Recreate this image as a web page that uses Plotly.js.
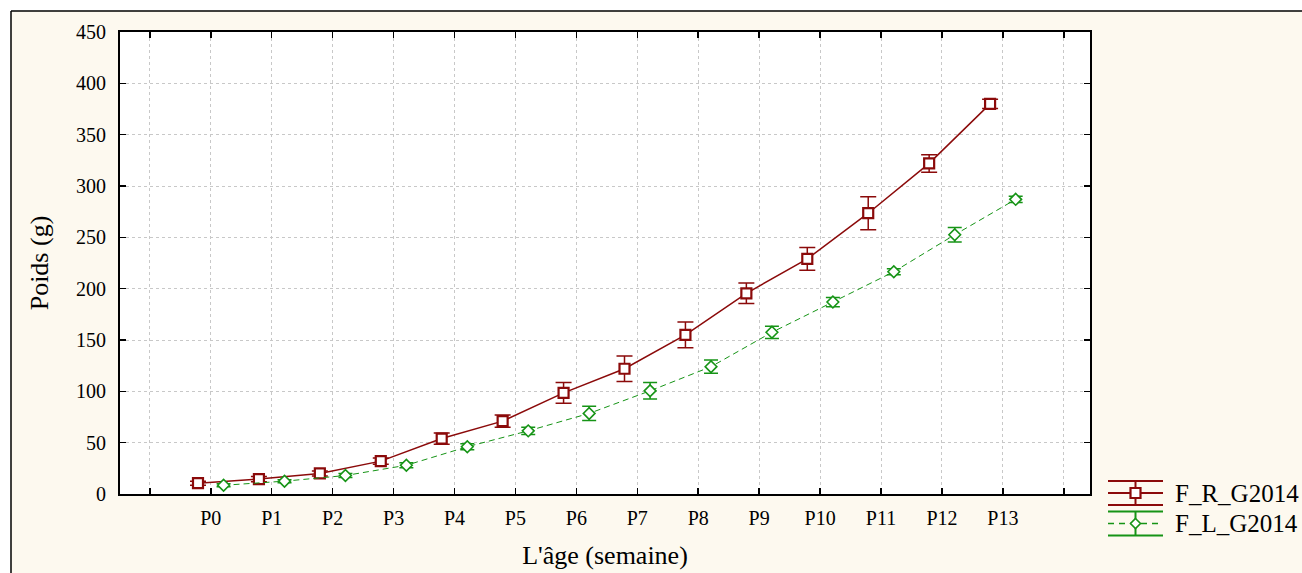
<!DOCTYPE html>
<html>
<head>
<meta charset="utf-8">
<script src="https://cdn.plot.ly/plotly-3.0.1.min.js"></script>
<style>
  html, body { margin: 0; padding: 0; background: #ffffff; }
  #chart { width: 1302px; height: 573px; }
</style>
</head>
<body>
<div id="chart"></div>
<script>
// Weekly body weight (g) of the two groups, mean ± error
const weeks = ['P0', 'P1', 'P2', 'P3', 'P4', 'P5', 'P6', 'P7', 'P8', 'P9', 'P10', 'P11', 'P12', 'P13'];
const frMean = [10.5, 14.5, 20, 32, 54, 71, 98.5, 122, 155, 195.5, 229, 273.5, 322, 380];
const frErr  = [2, 2.5, 2.5, 3, 5.5, 6, 10, 12.5, 12.5, 10, 11, 16, 8.5, 4.5];
const flMean = [8.5, 12.5, 18, 28, 46, 61.5, 78.5, 100.5, 124, 157.5, 187, 216.5, 252.5, 287];
const flErr  = [1.5, 1.5, 2, 2.5, 3, 3.5, 7, 8, 6.5, 6, 4.5, 3, 7, 3];
const seriesNames = ['F_R_G2014', 'F_L_G2014'];
const yTicks = [0, 50, 100, 150, 200, 250, 300, 350, 400, 450];

const RED = '#8b0a0a';
const GREEN = '#169416';
const FONT = 'Liberation Serif, Times New Roman, serif';

// plot-area box in pixels, used to place the frame and the legend key
const W = 1302, H = 573, L = 120, R = 1090, T = 32, B = 494;
const px = x => (x - L) / (R - L);
const py = y => (B - y) / (B - T);

// categories sit on integer slots; the two groups are drawn side by side
const slot = weeks.map((_, i) => i);
const tickVals = [-1].concat(slot, [weeks.length]);
const tickText = [''].concat(weeks, ['']);

const traces = [
  {
    x: slot.map(i => i - 0.21), y: frMean, name: seriesNames[0],
    mode: 'lines+markers', type: 'scatter',
    line: { color: RED, width: 1.5 },
    marker: { symbol: 'square', size: 10, color: '#ffffff', line: { color: RED, width: 2.2 } },
    error_y: { type: 'data', array: frErr, visible: true, color: RED, thickness: 1.5, width: 8 },
    showlegend: false, hoverinfo: 'skip'
  },
  {
    x: slot.map(i => i + 0.21), y: flMean, name: seriesNames[1],
    mode: 'lines+markers', type: 'scatter',
    line: { color: GREEN, width: 1, dash: '6px,4px' },
    marker: { symbol: 'diamond', size: 9, color: '#ffffff', line: { color: GREEN, width: 1.6 } },
    error_y: { type: 'data', array: flErr, visible: true, color: GREEN, thickness: 1.5, width: 7 },
    showlegend: false, hoverinfo: 'skip'
  }
];

// legend key drawn with shapes: three bars, a stem and the marker
function keyShapes(yc, color, dashMid, marker) {
  const x0 = px(1108), x1 = px(1163), xm = px(1135.5);
  const s = [
    { type: 'line', xref: 'paper', yref: 'paper', x0: x0, x1: x1, y0: py(yc - 12), y1: py(yc - 12), line: { color: color, width: 2 } },
    { type: 'line', xref: 'paper', yref: 'paper', x0: x0, x1: x1, y0: py(yc), y1: py(yc), line: { color: color, width: dashMid ? 1.5 : 2, dash: dashMid ? '6px,5px' : 'solid' } },
    { type: 'line', xref: 'paper', yref: 'paper', x0: x0, x1: x1, y0: py(yc + 12), y1: py(yc + 12), line: { color: color, width: 2 } },
    { type: 'line', xref: 'paper', yref: 'paper', x0: xm, x1: xm, y0: py(yc - 12), y1: py(yc + 12), line: { color: color, width: 2 } }
  ];
  if (marker === 'square') {
    s.push({ type: 'rect', xref: 'paper', yref: 'paper', x0: px(1130.5), x1: px(1140.5), y0: py(yc - 5), y1: py(yc + 5), fillcolor: '#ffffff', line: { color: color, width: 2.2 } });
  } else {
    const X = v => px(v), Y = v => py(v);
    s.push({ type: 'path', xref: 'paper', yref: 'paper',
      path: `M ${X(1135.5)} ${Y(yc - 5)} L ${X(1140.5)} ${Y(yc)} L ${X(1135.5)} ${Y(yc + 5)} L ${X(1130.5)} ${Y(yc)} Z`,
      fillcolor: '#ffffff', line: { color: color, width: 1.6 } });
  }
  return s;
}

const shapes = [
  // white margin outside the outer frame
  { type: 'rect', xref: 'paper', yref: 'paper', layer: 'below', x0: px(0), x1: px(W + 5), y0: py(11), y1: py(-5), fillcolor: '#ffffff', line: { width: 0 } },
  { type: 'rect', xref: 'paper', yref: 'paper', layer: 'below', x0: px(-5), x1: px(11), y0: py(H + 5), y1: py(-5), fillcolor: '#ffffff', line: { width: 0 } },
  // outer frame
  { type: 'line', xref: 'paper', yref: 'paper', x0: px(11), x1: px(11), y0: py(11), y1: py(H + 5), line: { color: '#000', width: 1.5 } },
  { type: 'line', xref: 'paper', yref: 'paper', x0: px(11), x1: px(W + 5), y0: py(11), y1: py(11), line: { color: '#000', width: 1.5 } }
].concat(keyShapes(493, RED, false, 'square'), keyShapes(523.5, GREEN, true, 'diamond'));

const annotations = [
  { xref: 'paper', yref: 'paper', x: px(1173), y: py(493), xanchor: 'left', yanchor: 'middle', text: seriesNames[0], showarrow: false, font: { family: FONT, size: 25, color: '#000' } },
  { xref: 'paper', yref: 'paper', x: px(1173), y: py(523.5), xanchor: 'left', yanchor: 'middle', text: seriesNames[1], showarrow: false, font: { family: FONT, size: 25, color: '#000' } }
];

const axisCommon = {
  showline: true, linecolor: '#000', linewidth: 2, mirror: 'ticks',
  ticks: 'inside', ticklen: 6, tickwidth: 1.5, tickcolor: '#000',
  showgrid: true, gridcolor: '#c8c8c8', gridwidth: 1, griddash: 'dot',
  zeroline: false, tickfont: { family: FONT, size: 20, color: '#000' }
};

const layout = {
  width: W, height: H,
  margin: { l: L, r: W - R, t: T, b: H - B, pad: 0 },
  paper_bgcolor: '#fdf9ef',
  plot_bgcolor: '#ffffff',
  showlegend: false,
  xaxis: Object.assign({}, axisCommon, {
    range: [-1.49, 14.43], tickmode: 'array', tickvals: tickVals, ticktext: tickText,
    ticklabelstandoff: 5,
    title: { text: "L'âge (semaine)", font: { family: FONT, size: 26, color: '#000' }, standoff: 18 }
  }),
  yaxis: Object.assign({}, axisCommon, {
    range: [0, 450], tickmode: 'array', tickvals: yTicks,
    ticklabelstandoff: 8,
    title: { text: 'Poids (g)', font: { family: FONT, size: 26, color: '#000' }, standoff: 20 }
  }),
  shapes: shapes,
  annotations: annotations
};

Plotly.newPlot('chart', traces, layout, { staticPlot: true, displayModeBar: false });
</script>
</body>
</html>
